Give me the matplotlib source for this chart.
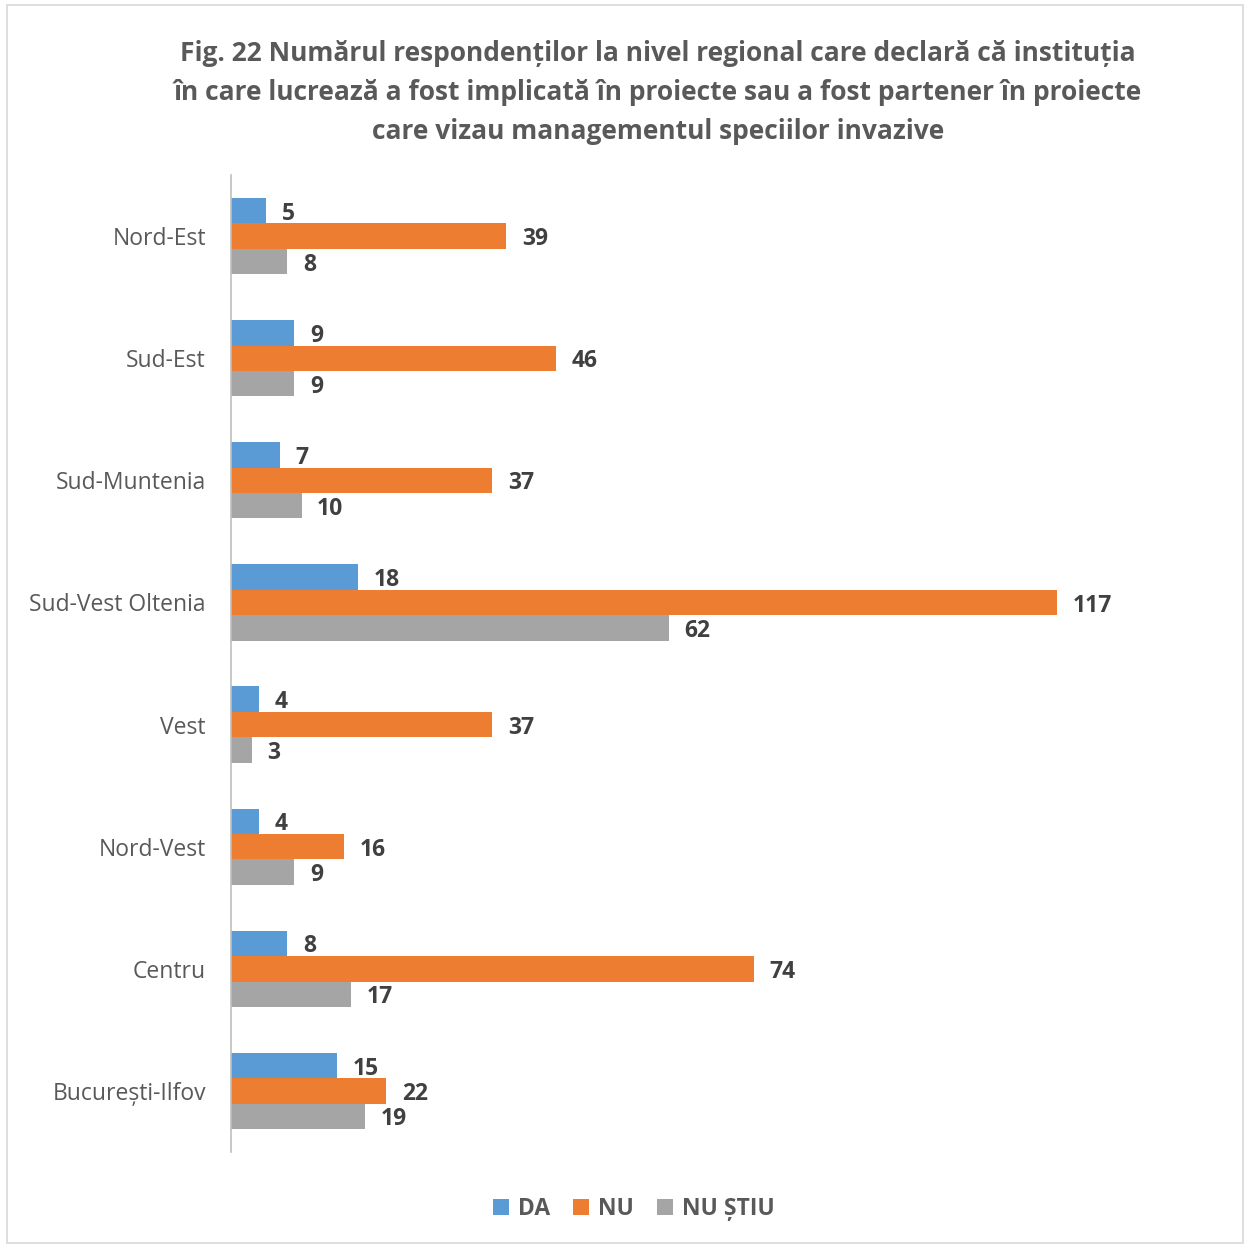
import matplotlib.pyplot as plt
import numpy as np
from matplotlib.patches import Rectangle

plt.rcParams['font.family'] = ['Open Sans', 'DejaVu Sans']

# data
regions = ['Nord-Est', 'Sud-Est', 'Sud-Muntenia', 'Sud-Vest Oltenia',
           'Vest', 'Nord-Vest', 'Centru', 'București-Ilfov']
da = [5, 9, 7, 18, 4, 4, 8, 15]
nu = [39, 46, 37, 117, 37, 16, 74, 22]
nu_stiu = [8, 9, 10, 62, 3, 9, 17, 19]
series_names = ['DA', 'NU', 'NU ȘTIU']
colors = ['#5B9BD5', '#ED7D31', '#A5A5A5']
title = ('Fig. 22 Numărul respondenților la nivel regional care declară că instituția\n'
         'în care lucrează a fost implicată în proiecte sau a fost partener în proiecte\n'
         'care vizau managementul speciilor invazive')

fig = plt.figure(figsize=(12.48, 12.45), dpi=100)
ax = fig.add_axes([0.185, 0.0747, 0.7925, 0.7847])

y = np.arange(len(regions))
h = 0.208
for k, (vals, name, c) in enumerate(zip([da, nu, nu_stiu], series_names, colors)):
    pos = y + (k - 1) * h
    ax.barh(pos, vals, height=h, color=c, label=name)
    for p, v in zip(pos, vals):
        ax.text(v + 2.2, p + 0.025, str(v), va='center', ha='left', fontsize=16.5,
                fontweight='bold', color='#404040')

ax.set_xlim(0, 140)
ax.set_ylim(len(regions) - 0.5, -0.5)
ax.set_yticks(y, labels=regions, fontsize=16.5, color='#595959')
ax.tick_params(axis='y', length=0, pad=18)
ax.set_xticks([])
for s in ['top', 'right', 'bottom']:
    ax.spines[s].set_visible(False)
ax.spines['left'].set_color('#BFBFBF')
ax.spines['left'].set_linewidth(1.2)

fig.text(0.527, 0.9675, title, ha='center', va='top', fontsize=19,
         fontweight='bold', color='#595959', linespacing=1.55)

ax.legend(loc='center', bbox_to_anchor=(0.5, 0.5), bbox_transform=fig.transFigure,
          ncol=3, frameon=False, fontsize=16.5, handlelength=0.7, handleheight=0.7,
          columnspacing=1.0, handletextpad=0.4, labelcolor='#595959')
leg = ax.get_legend()
leg.set_bbox_to_anchor((0.508, 0.029), transform=fig.transFigure)
for t in leg.get_texts():
    t.set_fontweight('bold')

fig.patches.append(Rectangle((0.006, 0.002), 0.99, 0.994, transform=fig.transFigure,
                             fill=False, edgecolor='#D9D9D9', linewidth=1.2))

plt.savefig('out.png', dpi=100)
